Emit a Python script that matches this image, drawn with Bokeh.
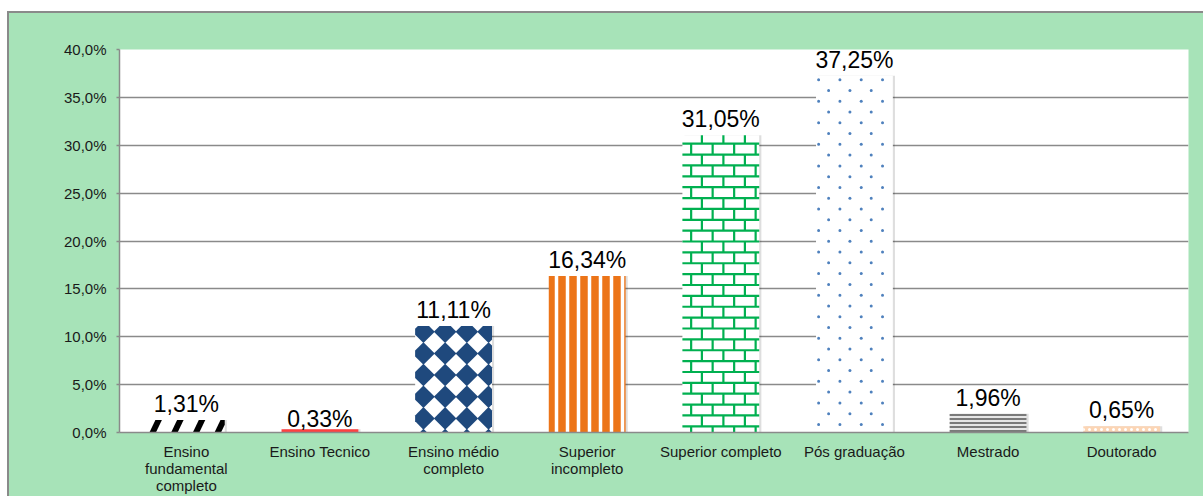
from bokeh.plotting import figure
from bokeh.models import Range1d, FixedTicker, ColumnDataSource, Label
from bokeh.core.properties import value
from bokeh.transform import dodge
from bokeh.embed import file_html
from bokeh.resources import INLINE

# ---------------- data ----------------
categories = ["Ensino\nfundamental\ncompleto", "Ensino Tecnico", "Ensino médio\ncompleto",
              "Superior\nincompleto", "Superior completo", "Pós graduação", "Mestrado", "Doutorado"]
values = [1.31, 0.33, 11.11, 16.34, 31.05, 37.25, 1.96, 0.65]
value_labels = ["1,31%", "0,33%", "11,11%", "16,34%", "31,05%", "37,25%", "1,96%", "0,65%"]
y_ticks = [0, 5, 10, 15, 20, 25, 30, 35, 40]
y_tick_labels = ["0,0%", "5,0%", "10,0%", "15,0%", "20,0%", "25,0%", "30,0%", "35,0%", "40,0%"]
title_bold = "Gráfico 1:"
title_rest = "Escolaridade."

# ---------------- figure ----------------
GREEN = "#a7e3b8"
GRAY = "#8a8a8a"
FONT = "Liberation Sans"
W, H = 1203, 496
BL, BR, BT, BB = 119, 15, 49, 63

x_centers = [i + 0.5 for i in range(len(categories))]

p = figure(width=W, height=H, output_backend="svg", toolbar_location=None,
           x_range=Range1d(0, len(categories)), y_range=Range1d(y_ticks[0], y_ticks[-1]),
           min_border_left=BL, min_border_right=BR, min_border_top=BT, min_border_bottom=BB)
# green panel with grey frame line (left and top) painted behind the transparent border area
p.border_fill_color = None
p.styles = {
    "background-color": "white",
    "background-image": (f"linear-gradient({GRAY}, {GRAY}), linear-gradient({GRAY}, {GRAY}), "
                         f"linear-gradient({GREEN}, {GREEN})"),
    "background-size": "2px 100%, 100% 2px, 100% 100%",
    "background-position": "7px 11px, 7px 11px, 7px 11px",
    "background-repeat": "no-repeat",
}
p.background_fill_color = "white"
p.outline_line_color = None

# pixel size of one data unit (used only to lay out fill textures inside bars)
KX = (W - BL - BR) / (p.x_range.end - p.x_range.start)
KY = (H - BT - BB) / (p.y_range.end - p.y_range.start)

# axes
ya = p.yaxis[0]
ya.ticker = FixedTicker(ticks=y_ticks)
ya.major_label_overrides = dict(zip(y_ticks, y_tick_labels))
ya.axis_line_color = GRAY
ya.axis_line_width = 1.5
ya.major_tick_line_color = GRAY
ya.major_tick_line_width = 1.5
ya.major_tick_out = 3
ya.major_tick_in = 0
ya.minor_tick_line_color = None
ya.major_label_text_font = FONT
ya.major_label_text_font_size = "15px"
ya.major_label_text_color = "#1a1a1a"
ya.major_label_standoff = 10

xa = p.xaxis[0]
xa.ticker = FixedTicker(ticks=x_centers)
xa.major_label_overrides = dict(zip(x_centers, categories))
xa.axis_line_color = GRAY
xa.axis_line_width = 1.5
xa.major_tick_line_color = None
xa.major_tick_out = 0
xa.major_tick_in = 0
xa.minor_tick_line_color = None
xa.minor_tick_out = 0
xa.minor_tick_in = 0
xa.major_label_text_font = FONT
xa.major_label_text_font_size = "15px"
xa.major_label_text_color = "#1a1a1a"
xa.major_label_standoff = 10
xa.major_label_text_line_height = 1.0

p.xgrid.visible = False
p.ygrid.grid_line_color = GRAY
p.ygrid.grid_line_width = 1.5

BAR_W = 0.575
src = ColumnDataSource(dict(x=x_centers, top=values, label=value_labels,
                            yoff=[-3, 3, -3, -3, -3, -3, -3, -3]))

# soft shadow
p.vbar(x=dodge("x", 0.016, range=p.x_range), top="top", width=BAR_W, source=src,
       fill_color="black", fill_alpha=0.13, line_color=None)

# base bars with built-in hatches
base = [
    dict(fill_color="white"),
    dict(fill_color="#ff4040", hatch_pattern='"', hatch_color="#e00000", hatch_weight=2, hatch_scale=10),
    dict(fill_color="white"),
    dict(fill_color="#ec7418", hatch_pattern="|", hatch_color="white", hatch_weight=3.5, hatch_scale=11),
    dict(fill_color="white"),
    dict(fill_color="white"),
    dict(fill_color="#e6e6e6", hatch_pattern="-", hatch_color="#7a7a7a", hatch_weight=2, hatch_scale=4),
    dict(fill_color="#fcd5b4", hatch_pattern=".", hatch_color="white", hatch_weight=2, hatch_scale=6),
]
for i, st in enumerate(base):
    p.vbar(x=[x_centers[i]], top=[values[i]], width=BAR_W, line_color=None, **st)


# ---- textures built inside the bars (pixel layout relative to each bar's top-left) ----
def to_data(i, px, py):
    left = x_centers[i] - BAR_W / 2
    return left + px / KX, values[i] - py / KY


def clip_poly(pts, xmin, xmax, ymin, ymax):
    def clip(pts, inside, inter):
        out = []
        n = len(pts)
        for k in range(n):
            a, b = pts[k - 1], pts[k]
            ia, ib = inside(a), inside(b)
            if ib:
                if not ia:
                    out.append(inter(a, b))
                out.append(b)
            elif ia:
                out.append(inter(a, b))
        return out

    def ix(xc):
        return lambda a, b: (xc, a[1] + (b[1] - a[1]) * (xc - a[0]) / (b[0] - a[0]))

    def iy(yc):
        return lambda a, b: (a[0] + (b[0] - a[0]) * (yc - a[1]) / (b[1] - a[1]), yc)

    for f in (lambda s: clip(s, lambda q: q[0] >= xmin, ix(xmin)),
              lambda s: clip(s, lambda q: q[0] <= xmax, ix(xmax)),
              lambda s: clip(s, lambda q: q[1] >= ymin, iy(ymin)),
              lambda s: clip(s, lambda q: q[1] <= ymax, iy(ymax))):
        if pts:
            pts = f(pts)
    return pts


def add_polys(i, polys, bh, xs, ys):
    for poly in polys:
        poly = clip_poly(poly, 0, BW, 0, bh)
        if len(poly) >= 3:
            dd = [to_data(i, a, b) for a, b in poly]
            xs.append([q[0] for q in dd])
            ys.append([q[1] for q in dd])


BW = BAR_W * KX  # bar width in pixels

# slanted black dashes (Ensino fundamental completo)
i = 0
bh = values[i] * KY
xs, ys = [], []
polys = []
for j in range(-1, 5):
    x0 = 1.5 + j * 21.7
    polys.append([(x0, bh), (x0 + 6.5, bh), (x0 + 12.5, 0), (x0 + 6, 0)])
add_polys(i, polys, bh, xs, ys)
p.patches(xs, ys, fill_color="black", line_color=None)

# diamonds (Ensino médio completo)
i = 2
bh = values[i] * KY
d, hd = 21.7, 11.3
xs, ys = [], []
polys = []
k = -1
while 5.7 + k * d - hd < bh:
    cy = 5.7 + k * d
    for j in range(-1, 6):
        cx = 8.3 + j * d
        polys.append([(cx, cy - hd), (cx + hd, cy), (cx, cy + hd), (cx - hd, cy)])
    k += 1
add_polys(i, polys, bh, xs, ys)
p.patches(xs, ys, fill_color="#1f497d", line_color=None)

# bricks (Superior completo)
i = 4
bh = values[i] * KY
row, per = 10.9, 21.5
x0s, y0s, x1s, y1s = [], [], [], []
edges = [0.0]
yy = 8.5
while yy < bh:
    edges.append(yy)
    ax, ay = to_data(i, 0, yy)
    bx, by = to_data(i, BW, yy)
    x0s.append(ax); y0s.append(ay); x1s.append(bx); y1s.append(by)
    yy += row
edges.append(bh)
for r in range(len(edges) - 1):
    off = 19.5 if r % 2 == 0 else 8.75
    xx = off
    while xx < BW - 1:
        ax, ay = to_data(i, xx, edges[r])
        bx, by = to_data(i, xx, edges[r + 1])
        x0s.append(ax); y0s.append(ay); x1s.append(bx); y1s.append(by)
        xx += per
p.segment(x0s, y0s, x1s, y1s, line_color="#00b050", line_width=2.2)

# staggered dots (Pós graduação)
i = 5
bh = values[i] * KY
dx, dy = [], []
r = 0
yy = 3.9
while yy < bh - 1:
    xx = 2.6 if r % 2 == 0 else 12.6
    while xx < BW - 1:
        a, b = to_data(i, xx, yy)
        dx.append(a); dy.append(b)
        xx += 21.3
    yy += 10.8
    r += 1
p.scatter(dx, dy, marker="circle", size=3, fill_color="#4f81bd", line_color=None)

# value labels
p.text(x="x", y="top", text="label", source=src, y_offset="yoff",
       text_align="center", text_baseline="bottom",
       text_font=value(FONT), text_font_size="23px", text_color="black")

# partially visible title above the panel (placed through the plot's scales)
TITLE_Y = p.y_range.end + (BT - 10) / KY
p.add_layout(Label(x=p.x_range.start + (12 - BL) / KX, y=TITLE_Y,
                   text=title_bold, text_font=FONT, text_font_size="22px",
                   text_font_style="bold", text_baseline="bottom", text_color="black"))
p.add_layout(Label(x=p.x_range.start + (127 - BL) / KX, y=TITLE_Y,
                   text=title_rest, text_font=FONT, text_font_size="22px",
                   text_baseline="bottom", text_color="black"))

open("out.html", "w").write(file_html(p, INLINE))
